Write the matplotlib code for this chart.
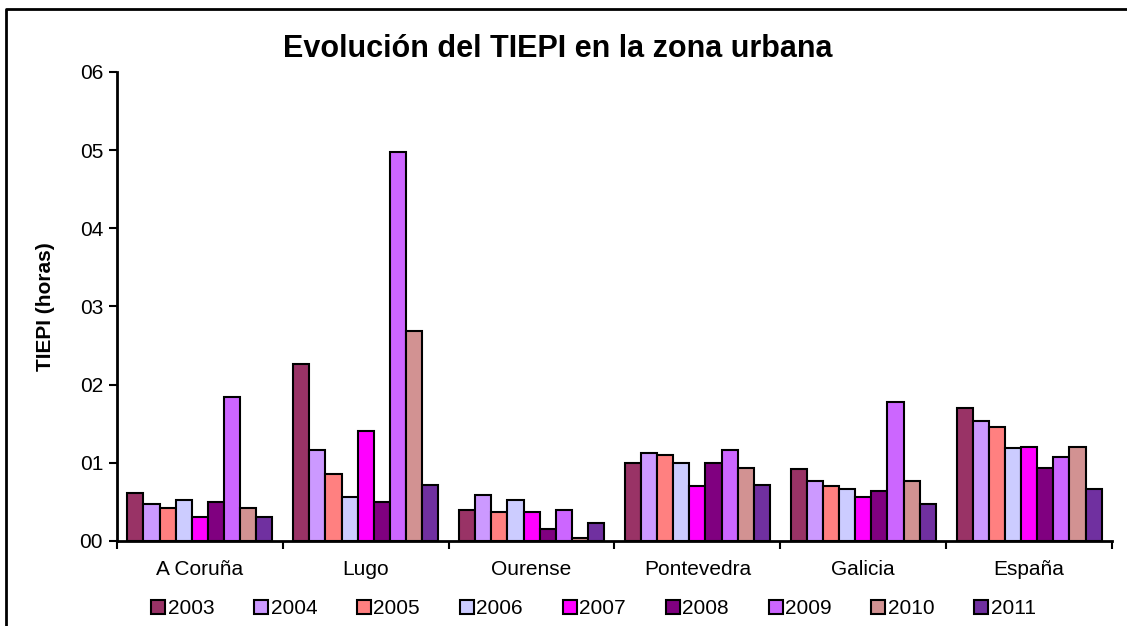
import numpy as np
import matplotlib
matplotlib.use('Agg')
import matplotlib.pyplot as plt
from matplotlib.lines import Line2D

plt.rcParams['font.family'] = ['Liberation Sans', 'DejaVu Sans']

regions = ['A Coruña', 'Lugo', 'Ourense', 'Pontevedra', 'Galicia', 'España']
years = ['2003', '2004', '2005', '2006', '2007', '2008', '2009', '2010', '2011']

# TIEPI per year, one list per region
a_coruna = [0.61, 0.47, 0.42, 0.52, 0.31, 0.50, 1.84, 0.42, 0.31]
lugo = [2.27, 1.16, 0.86, 0.56, 1.41, 0.50, 4.98, 2.69, 0.72]
ourense = [0.40, 0.59, 0.37, 0.52, 0.37, 0.15, 0.40, 0.04, 0.23]
pontevedra = [1.00, 1.13, 1.10, 1.00, 0.70, 1.00, 1.16, 0.93, 0.72]
galicia = [0.92, 0.77, 0.70, 0.67, 0.56, 0.64, 1.78, 0.77, 0.47]
espana = [1.70, 1.53, 1.46, 1.19, 1.20, 0.93, 1.07, 1.20, 0.67]

colors = ['#993366', '#CC99FF', '#FF8080', '#CCCCFF', '#FF00FF',
          '#800080', '#CC66FF', '#D29292', '#7030A0']

data = np.array([a_coruna, lugo, ourense, pontevedra, galicia, espana])

fig = plt.figure(figsize=(11.27, 6.26), dpi=100)
ax = fig.add_axes([0.1038, 0.1358, 0.8829, 0.7492])

n = len(years)
w = 0.875 / n
x = np.arange(len(regions))
for i, yr in enumerate(years):
    ax.bar(x - 0.4375 + w * (i + 0.5), data[:, i], w, color=colors[i],
           edgecolor='black', linewidth=1.5, label=yr)

ax.set_xlim(-0.5, len(regions) - 0.5)
ax.set_ylim(0, 6)
ax.set_yticks(range(7))
ax.set_yticklabels(['0%d' % v for v in range(7)], fontsize=15)
ax.set_xticks(x)
ax.set_xticklabels(regions, fontsize=15)
ax.tick_params(axis='x', length=0, pad=14)
ax.set_xticks(np.arange(len(regions) + 1) - 0.5, minor=True)
ax.tick_params(axis='x', which='minor', length=6, width=1.5, direction='out')
ax.tick_params(axis='y', length=6, width=1.5, direction='out', pad=4)
for s in ['top', 'right']:
    ax.spines[s].set_visible(False)
for s in ['left', 'bottom']:
    ax.spines[s].set_linewidth(2)

ax.set_ylabel('TIEPI (horas)', fontsize=15, fontweight='bold', labelpad=18)
fig.text(0.495, 0.922, 'Evolución del TIEPI en la zona urbana',
         fontsize=22, fontweight='bold', ha='center', va='center')

handles = [Line2D([], [], marker='s', linestyle='none', markersize=10,
                  markerfacecolor=c, markeredgecolor='black', markeredgewidth=1.5)
           for c in colors]
fig.legend(handles, years, loc='center', bbox_to_anchor=(0.527, 0.028), ncol=n,
           frameon=False, fontsize=15, handletextpad=0.15, columnspacing=1.95,
           handlelength=0.6)

# outer frame of the original chart area
fig.add_artist(Line2D([0.0055, 0.0055, 1.0], [0.0, 0.985, 0.985],
                      transform=fig.transFigure, color='black', linewidth=2))

fig.savefig('out.png', dpi=100)
